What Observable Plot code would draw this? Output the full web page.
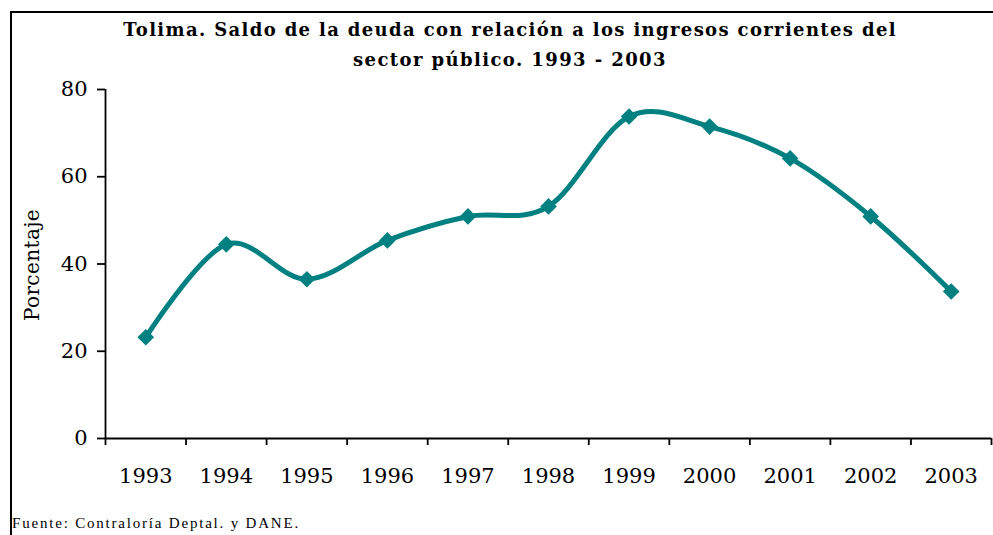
<!DOCTYPE html>
<html><head><meta charset="utf-8">
<script src="https://cdn.jsdelivr.net/npm/d3@7"></script>
<script src="https://cdn.jsdelivr.net/npm/@observablehq/plot@0.6"></script>
<style>
body{margin:0;background:#fff;width:993px;height:535px;overflow:hidden;position:relative;font-family:"DejaVu Serif",serif;color:#000}
#frame{position:absolute;left:10px;top:11px;width:1000px;height:600px;border-left:2px solid #000;border-top:2px solid #000}
#title{position:absolute;left:110px;width:800px;top:15px;text-align:center;font-weight:bold;font-size:18px;line-height:30px;white-space:nowrap}
#title span{display:inline-block}
#chart{position:absolute;left:0;top:70px}
#ylabel{position:absolute;left:32px;top:265px;transform:translate(-50%,-50%) rotate(-90deg);font-size:20px;white-space:nowrap}
#caption{position:absolute;left:12px;top:515px;font-family:"Liberation Serif",serif;font-size:15px;white-space:nowrap}
</style></head>
<body>
<div id="frame"></div>
<div id="title"><span data-w="774">Tolima. Saldo de la deuda con relación a los ingresos corrientes del</span><br><span data-w="314">sector público. 1993 - 2003</span></div>
<div id="chart"></div>
<div id="ylabel"><span data-w="112">Porcentaje</span></div>
<div id="caption"><span data-w="288">Fuente: Contraloría Deptal. y DANE.</span></div>
<script>
const years = [1993, 1994, 1995, 1996, 1997, 1998, 1999, 2000, 2001, 2002, 2003];
const values = [23.2, 44.5, 36.5, 45.4, 50.9, 53.2, 73.8, 71.5, 64.2, 50.9, 33.7];
const yTicks = [0, 20, 40, 60, 80];

const data = years.map((year, i) => ({year, value: values[i]}));
const bounds = [...years.map(y => y - 0.5), years[years.length - 1] + 0.5];

const chart = Plot.plot({
  width: 993,
  height: 420,
  marginLeft: 105,
  marginRight: 2,
  marginTop: 19,
  marginBottom: 52,
  x: {type: "linear", domain: [bounds[0], bounds[bounds.length - 1]]},
  y: {domain: [0, 80]},
  style: {fontFamily: "DejaVu Serif", fontSize: "21px", color: "#000", background: "transparent", overflow: "visible"},
  marks: [
    Plot.axisY({ticks: yTicks, tickSize: 8, tickPadding: 10, label: null, tickFormat: d => String(d), strokeWidth: 1.8}),
    Plot.axisX({ticks: bounds, tickSize: 7, label: null, tickFormat: () => "", strokeWidth: 1.8}),
    Plot.axisX({ticks: years, tickSize: 0, tickPadding: 30, label: null, tickFormat: d => String(d)}),
    Plot.ruleY([0], {stroke: "#000", strokeWidth: 1.8}),
    Plot.ruleX([bounds[0]], {stroke: "#000", strokeWidth: 1.8}),
    Plot.line(data, {x: "year", y: "value", curve: "cardinal", stroke: "#008080", strokeWidth: 5, strokeLinejoin: "round"}),
    Plot.dot(data, {x: "year", y: "value", symbol: "diamond2", r: 7.5, fill: "#008080", stroke: "none"})
  ]
});
document.getElementById("chart").appendChild(chart);

// fit text spans to the widths seen in the reference via letter-spacing
document.querySelectorAll("[data-w]").forEach(el => {
  const target = +el.dataset.w;
  const natural = el.offsetWidth;
  const n = el.textContent.length;
  el.style.letterSpacing = ((target - natural) / n) + "px";
});
</script>
</body></html>
